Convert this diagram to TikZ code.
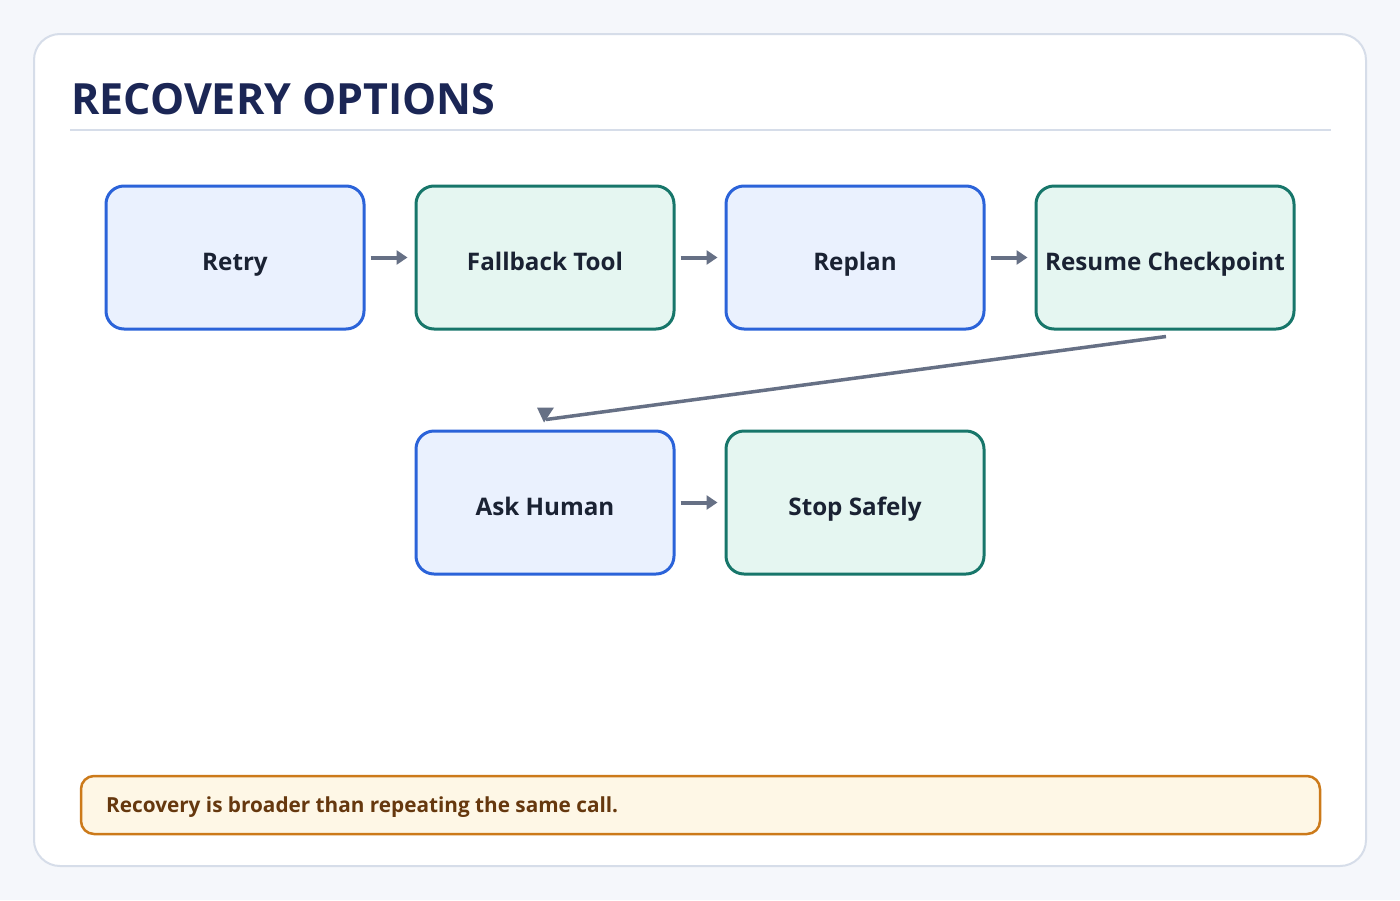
\documentclass[tikz,border=0pt]{standalone}
\usepackage{fontspec}
\setmainfont{Open Sans}
\usetikzlibrary{arrows.meta}
\definecolor{bgc}{HTML}{F5F7FB}
\definecolor{cardline}{HTML}{D6DDE9}
\definecolor{titlec}{HTML}{1B2655}
\definecolor{blueline}{HTML}{2B63D9}
\definecolor{bluefill}{HTML}{EAF1FE}
\definecolor{greenline}{HTML}{17766A}
\definecolor{greenfill}{HTML}{E5F6F1}
\definecolor{arrowc}{HTML}{667085}
\definecolor{textc}{HTML}{1A2233}
\definecolor{notefill}{HTML}{FEF7E6}
\definecolor{noteline}{HTML}{CC7A1A}
\definecolor{notetext}{HTML}{66380E}
\tikzset{
  base/.style={rounded corners=18pt, line width=3pt, minimum width=258pt, minimum height=143pt,
    inner sep=0pt, text height=27pt, text depth=2pt,
    font=\fontsize{24.2}{28}\selectfont\bfseries, text=textc},
  bluebox/.style={base, draw=blueline, fill=bluefill},
  greenbox/.style={base, draw=greenline, fill=greenfill},
  flow/.style={draw=arrowc, line width=4pt, -{Triangle[length=11pt,width=14pt]}},
}
\begin{document}
\begin{tikzpicture}[x=1pt,y=-1pt]
\useasboundingbox (0,0) rectangle (1400,900);
\fill[bgc] (0,0) rectangle (1400,900);
\draw[cardline, line width=2pt, fill=white, rounded corners=26pt] (34,34) rectangle (1366,866);
\node[anchor=base west, inner sep=0pt, text=titlec, font=\fontsize{43}{48}\selectfont\bfseries] (title) at (71,114) {RECOVERY OPTIONS};
\draw[cardline, line width=2.5pt] (70,130) -- (1331,130);

\node[bluebox] (retry) at (235,257.5) {Retry};
\node[greenbox] (fallback) at (545,257.5) {Fallback Tool};
\node[bluebox] (replan) at (855,257.5) {Replan};
\node[greenbox] (resume) at (1165,257.5) {Resume Checkpoint};
\node[bluebox] (ask) at (545,502.5) {Ask Human};
\node[greenbox] (stop) at (855,502.5) {Stop Safely};

\draw[flow] ([xshift=5pt]retry.east) -- ([xshift=-7pt]fallback.west);
\draw[flow] ([xshift=5pt]fallback.east) -- ([xshift=-7pt]replan.west);
\draw[flow] ([xshift=5pt]replan.east) -- ([xshift=-7pt]resume.west);
\draw[flow] ([xshift=5pt]ask.east) -- ([xshift=-7pt]stop.west);

\coordinate (dstart) at ([xshift=1pt,yshift=-6pt]resume.south);
\coordinate (dend) at ([xshift=1pt,yshift=10pt]ask.north);
\draw[arrowc, line width=3.5pt] (dstart) -- (dend);
\fill[arrowc] ([xshift=-9pt,yshift=12pt]dend) -- ([xshift=8pt,yshift=12pt]dend) -- ([xshift=-2pt,yshift=-3pt]dend) -- cycle;

\node[draw=noteline, fill=notefill, line width=2.5pt, rounded corners=13pt, minimum width=1239pt, minimum height=58pt, inner sep=0pt] (note) at (700.5,805) {};
\node[anchor=base west, inner sep=0pt, text=notetext, font=\fontsize{20.75}{24}\selectfont\bfseries] (notetxt) at (106,812) {Recovery is broader than repeating the same call.};
\end{tikzpicture}
\end{document}
